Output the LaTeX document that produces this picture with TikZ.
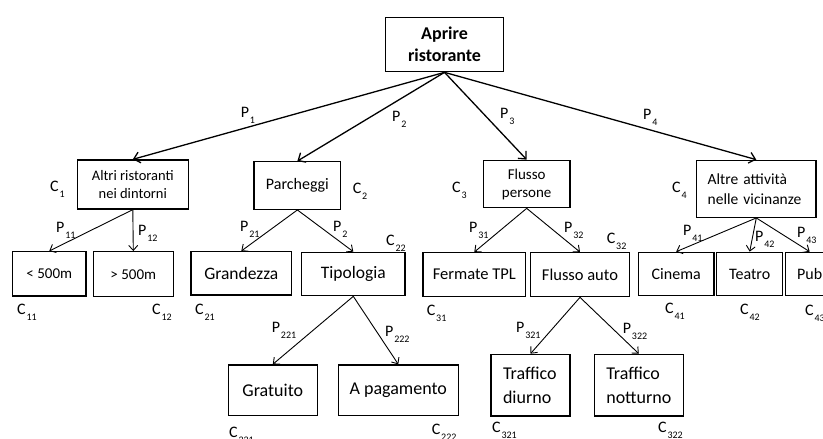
\documentclass[tikz,border=0pt]{standalone}
\usepackage{fontspec}
\setmainfont{Carlito}
\usetikzlibrary{arrows.meta}

% P/C label with a lowered small index
\newcommand\PCidx[2]{#1\kern0.8pt\raisebox{-6pt}[0pt][0pt]{\fontsize{10}{10}\selectfont #2}}

\tikzset{
  box/.style={draw, line width=1.3pt, inner sep=0pt, align=center},
  rootfont/.style={font=\fontsize{18}{22}\selectfont\bfseries},
  lvlone/.style={font=\fontsize{15}{18}\selectfont},
  lvltwo/.style={font=\fontsize{16.5}{20}\selectfont},
  lvlthree/.style={font=\fontsize{18}{24}\selectfont},
  lbl/.style={anchor=west, inner sep=0pt, font=\fontsize{16}{16}\selectfont},
  mainarrow/.style={line width=1.3pt, -{Straight Barb[length=6pt,width=11pt]}},
  subarrow/.style={line width=0.9pt, -{Straight Barb[length=5pt,width=9pt]}},
}

\begin{document}
\begin{tikzpicture}[x=1pt, y=-1pt]
\useasboundingbox (0,0) rectangle (823,439);

% root
\node[box, rootfont, minimum width=117.6pt, minimum height=54.4pt] (root) at (444.5,44.5) {Aprire\\ristorante};

% first level
\node[box, lvlone, font=\fontsize{14.5}{17.5}\selectfont, minimum width=111pt, minimum height=49pt] (altri) at (132.8,184.5) {Altri ristoranti\\nei dintorni};
\node[box, lvlone, font=\fontsize{16}{18}\selectfont, minimum width=86.7pt, minimum height=47.6pt] (parch) at (297.4,185.5) {Parcheggi};
\node[box, lvlone, minimum width=86.7pt, minimum height=47.4pt] (flussop) at (526.7,184) {Flusso\\persone};
\node[box, lvlone, font=\fontsize{15.5}{20}\selectfont, align=left, text width=97.3pt, inner xsep=11pt, minimum height=57pt] (altre) at (756.3,188.8) {Altre attività\\nelle vicinanze};

% second level
\node[box, lvltwo, font=\fontsize{15}{18}\selectfont, minimum width=73.3pt, minimum height=44.3pt] (lt) at (49.3,273.8) {< 500m};
\node[box, lvltwo, font=\fontsize{15}{18}\selectfont, minimum width=80pt, minimum height=45pt] (gt) at (133.3,274.2) {> 500m};
\node[box, lvltwo, font=\fontsize{17.5}{20}\selectfont, minimum width=100.7pt, minimum height=43.3pt] (grand) at (241.3,273.3) {Grandezza};
\node[box, lvltwo, font=\fontsize{17.5}{20}\selectfont, minimum width=103.3pt, minimum height=43.4pt] (tipo) at (353.3,274) {Tipologia};
\node[box, lvltwo, minimum width=102.7pt, minimum height=44pt] (fermate) at (474.3,274.7) {Fermate TPL};
\node[box, lvltwo, minimum width=98.6pt, minimum height=44pt] (fauto) at (580,274.7) {Flusso auto};
\node[box, lvltwo, font=\fontsize{16}{20}\selectfont, minimum width=75.7pt, minimum height=43.4pt] (cinema) at (676.2,274) {Cinema};
\node[box, lvltwo, font=\fontsize{16}{20}\selectfont, minimum width=66pt, minimum height=43.4pt] (teatro) at (749.7,274) {Teatro};
\node[box, lvltwo, font=\fontsize{16}{20}\selectfont, minimum width=48pt, minimum height=43.4pt] (pub) at (809.7,274) {Pub};

% third level
\node[box, lvlthree, minimum width=89pt, minimum height=50.7pt] (grat) at (272.8,390.3) {Gratuito};
\node[box, lvlthree, minimum width=120pt, minimum height=50.7pt] (apag) at (398.3,390.3) {A pagamento};
\node[box, lvlthree, align=left, text width=55pt, inner xsep=12pt, minimum height=61.7pt] (diurno) at (530.5,385.2) {Traffico\\diurno};
\node[box, lvlthree, align=left, text width=65pt, inner xsep=12pt, minimum height=61.7pt] (nott) at (638.8,385.2) {Traffico\\notturno};

% connectors
\draw[mainarrow] (root.south) -- (altri.north);
\draw[mainarrow] (root.south) -- (parch.north);
\draw[mainarrow] (root.south) -- (flussop.north);
\draw[mainarrow] (root.south) -- (altre.north);

\draw[subarrow] (altri.south) -- (lt.north);
\draw[subarrow] (altri.south) -- (gt.north);
\draw[subarrow] (parch.south) -- (grand.north);
\draw[subarrow] (parch.south) -- (tipo.north);
\draw[subarrow] (tipo.south) -- (grat.north);
\draw[subarrow] (tipo.south) -- (apag.north);
\draw[subarrow] (flussop.south) -- (fermate.north);
\draw[subarrow] (flussop.south) -- (fauto.north);
\draw[subarrow] (fauto.south) -- (diurno.north);
\draw[subarrow] (fauto.south) -- (nott.north);
\draw[subarrow] (altre.south) -- (cinema.north);
\draw[subarrow] (altre.south) -- (teatro.north);
\draw[subarrow] (altre.south) -- (pub.north);

% path labels
\node[lbl] (p1) at (240.7,112) {\PCidx{P}{1}};
\node[lbl] (p2) at (392,116) {\PCidx{P}{2}};
\node[lbl] (p3) at (500,113) {\PCidx{P}{3}};
\node[lbl] (p4) at (643,114) {\PCidx{P}{4}};
\node[lbl] (p11) at (56,227.7) {\PCidx{P}{11}};
\node[lbl] (p12) at (138,230) {\PCidx{P}{12}};
\node[lbl] (p21) at (240,226) {\PCidx{P}{21}};
\node[lbl] (p22) at (333,226.7) {\PCidx{P}{2}};
\node[lbl] (p221) at (271.7,327) {\PCidx{P}{221}};
\node[lbl] (p222) at (385,331) {\PCidx{P}{222}};
\node[lbl] (p31) at (469,227) {\PCidx{P}{31}};
\node[lbl] (p32) at (564,227) {\PCidx{P}{32}};
\node[lbl] (p321) at (516,327) {\PCidx{P}{321}};
\node[lbl] (p322) at (622.7,328) {\PCidx{P}{322}};
\node[lbl] (p41) at (683,230.5) {\PCidx{P}{41}};
\node[lbl] (p42) at (755,236) {\PCidx{P}{42}};
\node[lbl] (p43) at (797,232) {\PCidx{P}{43}};

% criterion labels
\node[lbl] (c1) at (50,186.7) {\PCidx{C}{1}};
\node[lbl] (c2) at (352.7,188) {\PCidx{C}{2}};
\node[lbl] (c3) at (452,187) {\PCidx{C}{3}};
\node[lbl] (c4) at (672,187) {\PCidx{C}{4}};
\node[lbl] (c11) at (17,309.7) {\PCidx{C}{11}};
\node[lbl] (c12) at (152,309.7) {\PCidx{C}{12}};
\node[lbl] (c21) at (195,309.7) {\PCidx{C}{21}};
\node[lbl] (c22) at (386,240) {\PCidx{C}{22}};
\node[lbl] (c221) at (229,432) {\PCidx{C}{221}};
\node[lbl] (c222) at (431.7,429.6) {\PCidx{C}{222}};
\node[lbl] (c31) at (426.7,310.5) {\PCidx{C}{31}};
\node[lbl] (c32) at (606.7,238.8) {\PCidx{C}{32}};
\node[lbl] (c321) at (492,427) {\PCidx{C}{321}};
\node[lbl] (c322) at (658,427) {\PCidx{C}{322}};
\node[lbl] (c41) at (665,308.7) {\PCidx{C}{41}};
\node[lbl] (c42) at (740,309.7) {\PCidx{C}{42}};
\node[lbl] (c43) at (805,310.5) {\PCidx{C}{43}};
\end{tikzpicture}
\end{document}
